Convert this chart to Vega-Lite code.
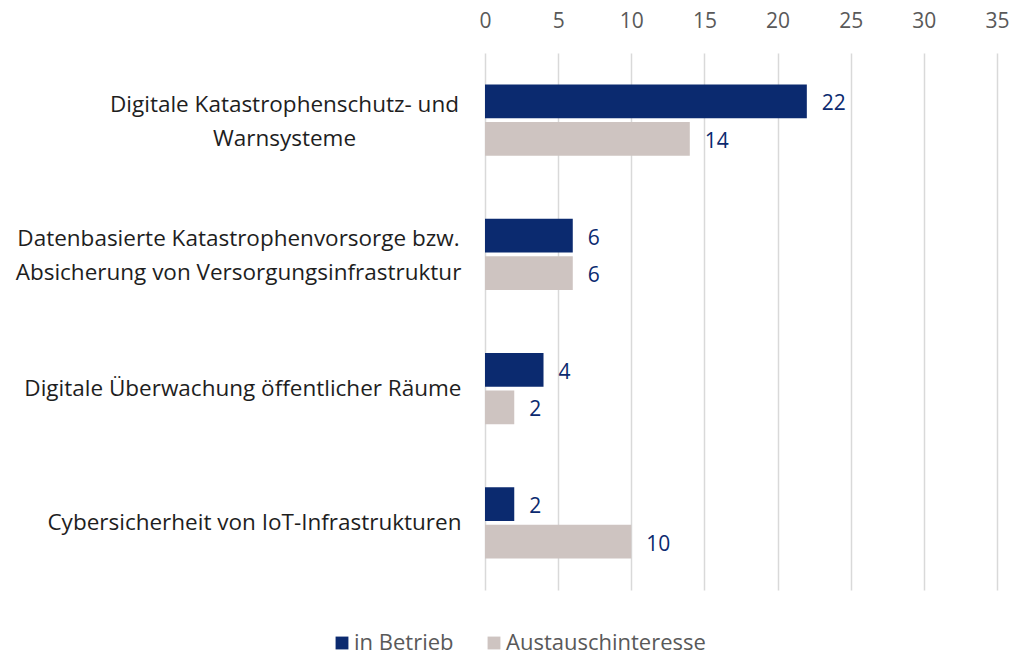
{
  "$schema": "https://vega.github.io/schema/vega-lite/v6.json",
  "width": 512,
  "height": 537,
  "autosize": {"type": "none"},
  "padding": {"left": 485, "top": 53, "right": 18, "bottom": 67},
  "background": "white",
  "config": {
    "font": "Open Sans",
    "view": {"stroke": null}
  },
  "data": {
    "values": [
      {"kategorie": "Digitale Katastrophenschutz- und|Warnsysteme", "serie": "in Betrieb", "wert": 22},
      {"kategorie": "Digitale Katastrophenschutz- und|Warnsysteme", "serie": "Austauschinteresse", "wert": 14},
      {"kategorie": "Datenbasierte Katastrophenvorsorge bzw.|Absicherung von Versorgungsinfrastruktur", "serie": "in Betrieb", "wert": 6},
      {"kategorie": "Datenbasierte Katastrophenvorsorge bzw.|Absicherung von Versorgungsinfrastruktur", "serie": "Austauschinteresse", "wert": 6},
      {"kategorie": "Digitale Überwachung öffentlicher Räume", "serie": "in Betrieb", "wert": 4},
      {"kategorie": "Digitale Überwachung öffentlicher Räume", "serie": "Austauschinteresse", "wert": 2},
      {"kategorie": "Cybersicherheit von IoT-Infrastrukturen", "serie": "in Betrieb", "wert": 2},
      {"kategorie": "Cybersicherheit von IoT-Infrastrukturen", "serie": "Austauschinteresse", "wert": 10}
    ]
  },
  "encoding": {
    "y": {
      "field": "kategorie",
      "type": "nominal",
      "sort": null,
      "scale": {"paddingInner": 0.47, "paddingOuter": 0.235},
      "axis": {
        "title": null,
        "domain": false,
        "ticks": false,
        "labelExpr": "split(datum.label, '|')",
        "labelFontSize": 22.5,
        "labelColor": "#1E1E1E",
        "labelLimit": 480,
        "labelLineHeight": 34,
        "labelAlign": {"condition": {"test": "indexof(datum.value, '|') >= 0", "value": "center"}, "value": "right"},
        "labelOffset": {"condition": {"test": "indexof(datum.value, '|') >= 0", "value": -15}, "value": 0},
        "labelPadding": {"condition": [
          {"test": "indexof(datum.value, 'Warnsysteme') >= 0", "value": 201},
          {"test": "indexof(datum.value, 'Datenbasierte') >= 0", "value": 247}
        ], "value": 24}
      }
    },
    "yOffset": {
      "field": "serie",
      "type": "nominal",
      "sort": ["in Betrieb", "Austauschinteresse"],
      "scale": {"paddingInner": 0.1}
    },
    "x": {
      "field": "wert",
      "type": "quantitative",
      "scale": {"domain": [0, 35]},
      "axis": {
        "orient": "top",
        "title": null,
        "values": [0, 5, 10, 15, 20, 25, 30, 35],
        "domain": false,
        "ticks": false,
        "grid": true,
        "gridColor": "#D9D9D9",
        "gridWidth": 1.5,
        "labelFlush": false,
        "labelFontSize": 21,
        "labelColor": "#595959",
        "labelPadding": 22
      }
    }
  },
  "layer": [
    {
      "mark": {"type": "bar", "stroke": null},
      "encoding": {
        "color": {
          "field": "serie",
          "type": "nominal",
          "sort": ["in Betrieb", "Austauschinteresse"],
          "scale": {"domain": ["in Betrieb", "Austauschinteresse"], "range": ["#0B2A6F", "#CEC4C1"]},
          "legend": {
            "title": null,
            "orient": "none",
            "direction": "horizontal",
            "legendX": -154,
            "legendY": 579,
            "symbolType": "square",
            "symbolSize": 165,
            "symbolStrokeWidth": 0,
            "labelFontSize": 22,
            "labelColor": "#595959",
            "labelLimit": 400,
            "columnPadding": 29,
            "labelOffset": 1
          }
        }
      }
    },
    {
      "mark": {"type": "text", "align": "left", "baseline": "middle", "dx": 15, "dy": 3, "fontSize": 21, "color": "#0B2A6F"},
      "encoding": {
        "text": {"field": "wert", "type": "quantitative"}
      }
    }
  ]
}
